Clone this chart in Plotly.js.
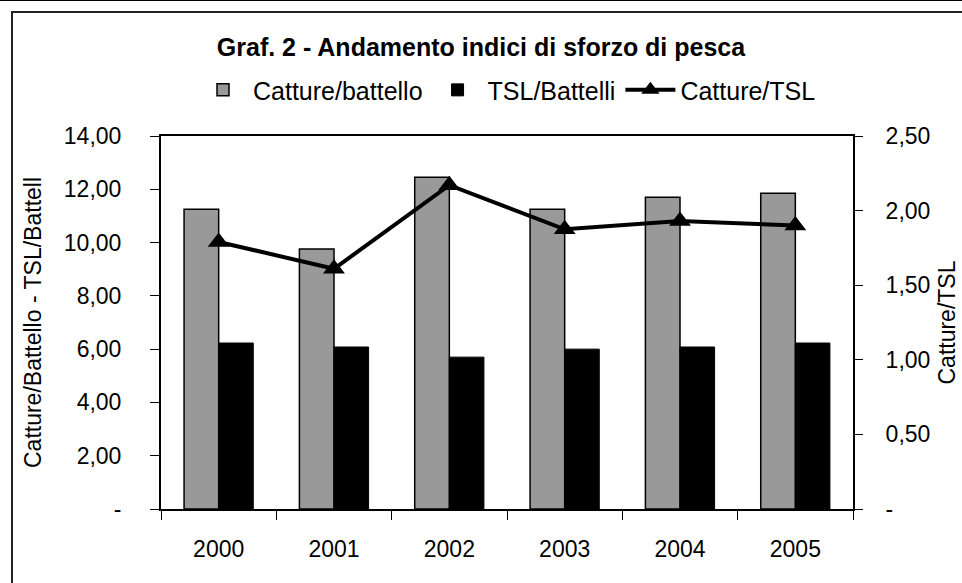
<!DOCTYPE html>
<html>
<head>
<meta charset="utf-8">
<script src="https://cdn.plot.ly/plotly-3.0.1.min.js"></script>
<style>
  body { margin: 0; background: #fff; }
  #wrap { position: relative; width: 962px; height: 583px; }
  #plotDiv { width: 962px; height: 583px; }
  #topline { position: absolute; left: 0; top: 0; width: 962px; height: 0; border-top: 1.5px solid #000; pointer-events: none; }
  #frame { position: absolute; left: 11px; top: 11px; width: 960px; height: 580px; border-top: 2px solid #222; border-left: 2px solid #222; pointer-events: none; }
</style>
</head>
<body>
<div id="wrap">
  <div id="plotDiv"></div>
  <div id="topline"></div>
  <div id="frame"></div>
</div>
<script>
var anni = ['2000', '2001', '2002', '2003', '2004', '2005'];
var cattureBattello = [11.25, 9.76, 12.45, 11.25, 11.70, 11.85];
var tslBattelli = [6.23, 6.08, 5.70, 6.00, 6.08, 6.23];
var cattureTsl = [1.79, 1.61, 2.17, 1.875, 1.93, 1.90];

var yTicks = [0, 2, 4, 6, 8, 10, 12, 14];
var yLabels = ['-', '2,00', '4,00', '6,00', '8,00', '10,00', '12,00', '14,00'];
var y2Ticks = [0, 0.5, 1, 1.5, 2, 2.5];
var y2Labels = ['-', '0,50', '1,00', '1,50', '2,00', '2,50'];

var fnt = 'Liberation Sans, Arial, sans-serif';

var barGrigio = {
  type: 'bar',
  name: 'Catture/battello',
  x: anni,
  y: cattureBattello,
  marker: { color: '#999999', line: { color: '#000', width: 1.5 } }
};

var barNero = {
  type: 'bar',
  name: 'TSL/Battelli',
  x: anni,
  y: tslBattelli,
  marker: { color: '#000000', line: { color: '#000', width: 1 } }
};

var linea = {
  type: 'scatter',
  mode: 'lines+markers',
  name: 'Catture/TSL',
  x: anni,
  y: cattureTsl,
  yaxis: 'y2',
  line: { color: '#000', width: 4 },
  marker: { symbol: 'triangle-up', size: 19, color: '#000' }
};

var layout = {
  width: 962,
  height: 583,
  paper_bgcolor: '#fff',
  plot_bgcolor: '#fff',
  font: { family: fnt, size: 23, color: '#000' },
  margin: { l: 161, r: 109, t: 136, b: 74, pad: 0 },
  title: {
    text: '<b>Graf. 2 - Andamento indici di sforzo di pesca</b>',
    font: { family: fnt, size: 25, color: '#000' },
    x: 0.5, xanchor: 'center',
    y: 0.919, yanchor: 'middle', yref: 'container'
  },
  showlegend: true,
  legend: {
    orientation: 'h',
    x: 0.5, xanchor: 'center',
    y: 1.123, yanchor: 'middle',
    font: { family: fnt, size: 25 },
    traceorder: 'normal',
    itemwidth: 50
  },
  barmode: 'group',
  bargap: 0.4,
  bargroupgap: 0,
  xaxis: {
    type: 'category',
    showline: true, linecolor: '#000', linewidth: 2,
    mirror: true,
    ticks: 'outside', ticklen: 9, tickcolor: '#000', tickwidth: 1,
    tickson: 'boundaries',
    ticklabelstandoff: 18,
    showgrid: false,
    tickfont: { family: fnt, size: 23 }
  },
  yaxis: {
    range: [0, 14],
    tickvals: yTicks,
    ticktext: yLabels,
    showline: true, linecolor: '#000', linewidth: 2,
    ticks: 'outside', ticklen: 9, tickcolor: '#000', tickwidth: 1,
    ticklabelstandoff: 24,
    showgrid: false, zeroline: false,
    tickfont: { family: fnt, size: 23 },
    title: { text: 'Catture/Battello - TSL/Battell', font: { family: fnt, size: 23 }, standoff: 16 }
  },
  yaxis2: {
    range: [0, 2.5],
    overlaying: 'y',
    side: 'right',
    tickvals: y2Ticks,
    ticktext: y2Labels,
    showline: true, linecolor: '#000', linewidth: 2,
    ticks: 'outside', ticklen: 8, tickcolor: '#000', tickwidth: 1,
    ticklabelstandoff: 18,
    showgrid: false, zeroline: false,
    tickfont: { family: fnt, size: 23 },
    title: { text: 'Catture/TSL', font: { family: fnt, size: 23 }, standoff: 10 }
  }
};

Plotly.newPlot('plotDiv', [barGrigio, barNero, linea], layout, { displayModeBar: false, staticPlot: true });
</script>
</body>
</html>
